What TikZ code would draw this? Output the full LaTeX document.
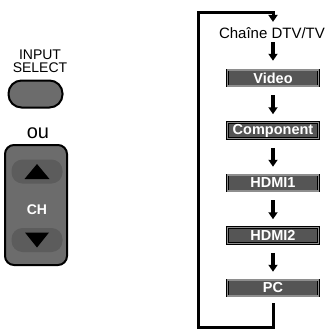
\documentclass[tikz,border=0pt]{standalone}
\usepackage{fontspec}
\setmainfont{Liberation Sans}
\usetikzlibrary{arrows.meta, positioning}

\definecolor{boxfill}{HTML}{555555}
\definecolor{boxrim}{HTML}{8E8E8E}
\definecolor{keybody}{HTML}{6C6C6C}
\definecolor{keycap}{HTML}{5C5C5C}

\begin{document}
\begin{tikzpicture}[
    x=1pt, y=-1pt,
    node distance=36pt,
    srcbox/.style={rectangle, draw=black, line width=0.5pt, double=boxrim, double distance=1.6pt, fill=boxfill, text=white, font=\bfseries\fontsize{14.5}{14.5}\selectfont, minimum width=91pt, minimum height=16pt, inner sep=0pt},
    flow/.style={-{Triangle[width=9pt,length=7pt]}, line width=3.2pt, shorten <=9pt, shorten >=8pt},
    pill/.style={rectangle, draw=black, line width=2pt, fill=keybody, rounded corners=13pt, minimum width=54pt, minimum height=27pt},
    rocker/.style={rectangle, draw=black, line width=2pt, fill=keybody, rounded corners=9pt, minimum width=62pt, minimum height=120pt},
    keypad/.style={rectangle, fill=keycap, rounded corners=11pt, minimum width=51pt, minimum height=24pt}
]
\useasboundingbox (0,0) rectangle (327,330);

% remote keys
\node[font=\fontsize{14}{13.5}\selectfont, align=center, inner sep=0pt] (insel) at (40,61) {INPUT\\SELECT};
\node[pill] (selbtn) at (35.5,94) {};
\node[font=\fontsize{20}{20}\selectfont] (ou) at (38,133.5) {ou};
\node[rocker] (chbox) at (36,205) {};
\node[keypad] (chup) at (37,171.5) {};
\node[keypad] (chdown) at (37,240) {};
\node[text=white, font=\bfseries\fontsize{14}{14}\selectfont] (chlbl) at (37,210) {CH};
\fill (chup.center) ++(0,-7.5) -- ++(12.5,15) -- ++(-25,0) -- cycle;
\fill (chdown.center) ++(0,7.5) -- ++(12,-15) -- ++(-24,0) -- cycle;

% input sources
\node[font=\fontsize{15}{15}\selectfont, anchor=base, inner sep=0pt] (chan) at (272,38) {Chaîne DTV/TV};
\node[srcbox] (video) at (273,78) {Video};
\node[srcbox, below=of video] (comp) {Component};
\node[srcbox, below=of comp] (hdmia) {HDMI1};
\node[srcbox, below=of hdmia] (hdmib) {HDMI2};
\node[srcbox, below=of hdmib] (pc) {PC};

\coordinate (lb) at (198,327);
\coordinate (lt) at (198,12);

\draw[flow, shorten <=4pt, shorten >=9pt] (chan.south -| video) -- (video);
\draw[flow] (video) -- (comp);
\draw[flow] (comp) -- (hdmia);
\draw[flow] (hdmia) -- (hdmib);
\draw[flow] (hdmib) -- (pc);
\draw[flow, line width=3pt, shorten <=7pt, shorten >=5pt] (pc.south) |- (lb) |- (lt) -| (chan.north -| video);
\end{tikzpicture}
\end{document}
